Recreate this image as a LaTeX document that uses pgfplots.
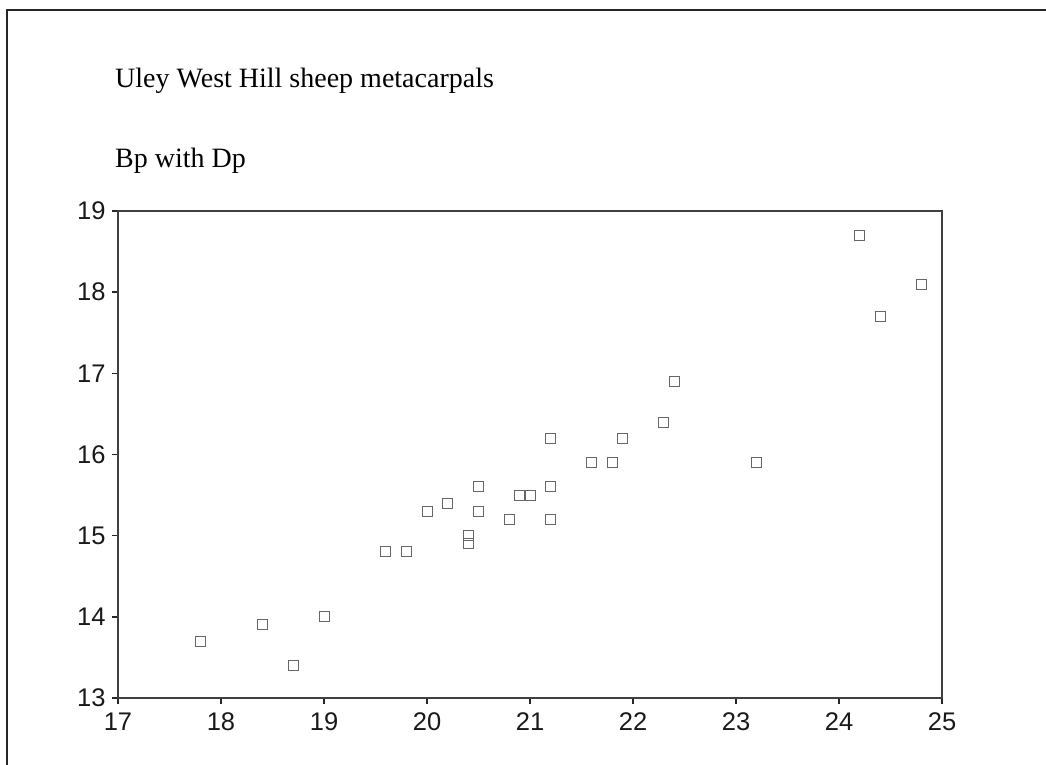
\documentclass[border=0pt]{standalone}
\usepackage{pgfplots}
\pgfplotsset{compat=1.18}
\usepackage{fontspec}
\setmainfont{Liberation Serif}
\newfontfamily\ticksans{Liberation Sans}
\begin{document}
\begin{tikzpicture}
\useasboundingbox (0pt,0pt) rectangle (1046pt,-765pt);
\draw[line width=2pt, black!85] (7pt,-765pt) -- (7pt,-10pt) -- (1046pt,-10pt);
\node[anchor=base west, inner sep=0pt, font=\fontsize{28}{30}\selectfont] at (115pt,-88pt) {Uley West Hill sheep metacarpals};
\node[anchor=base west, inner sep=0pt, font=\fontsize{28}{30}\selectfont] at (115pt,-167pt) {Bp with Dp};
\begin{axis}[
  at={(118pt,-698pt)}, anchor=south west,
  width=824pt, height=487pt, scale only axis,
  xmin=17, xmax=25, ymin=13, ymax=19,
  xtick={17,18,...,25}, ytick={13,14,...,19},
  tick align=outside, major tick length=6pt,
  xtick pos=bottom, ytick pos=left,
  axis line style={black!75, line width=1.1pt},
  every tick/.style={black!85, line width=1.4pt},
  tick label style={font=\ticksans\fontsize{25.5}{26}\selectfont, text=black!90},
  /pgf/number format/assume math mode=true,
  xticklabel style={yshift=-5pt},
  yticklabel style={xshift=-3pt},
  clip=false,
]
\addplot[only marks, mark=square, mark size=5pt,
  mark options={draw=black!60, line width=1pt, solid}]
coordinates {
(17.8,13.7) (18.4,13.9) (18.7,13.4) (19.0,14.0)
(19.6,14.8) (19.8,14.8) (20.0,15.3) (20.2,15.4)
(20.4,15.0) (20.4,14.9) (20.5,15.6) (20.5,15.3)
(20.8,15.2) (20.9,15.5) (21.0,15.5) (21.2,16.2)
(21.2,15.6) (21.2,15.2) (21.6,15.9) (21.8,15.9)
(21.9,16.2) (22.3,16.4) (22.4,16.9) (23.2,15.9)
(24.2,18.7) (24.4,17.7) (24.8,18.1)
};
\end{axis}
\end{tikzpicture}
\end{document}
